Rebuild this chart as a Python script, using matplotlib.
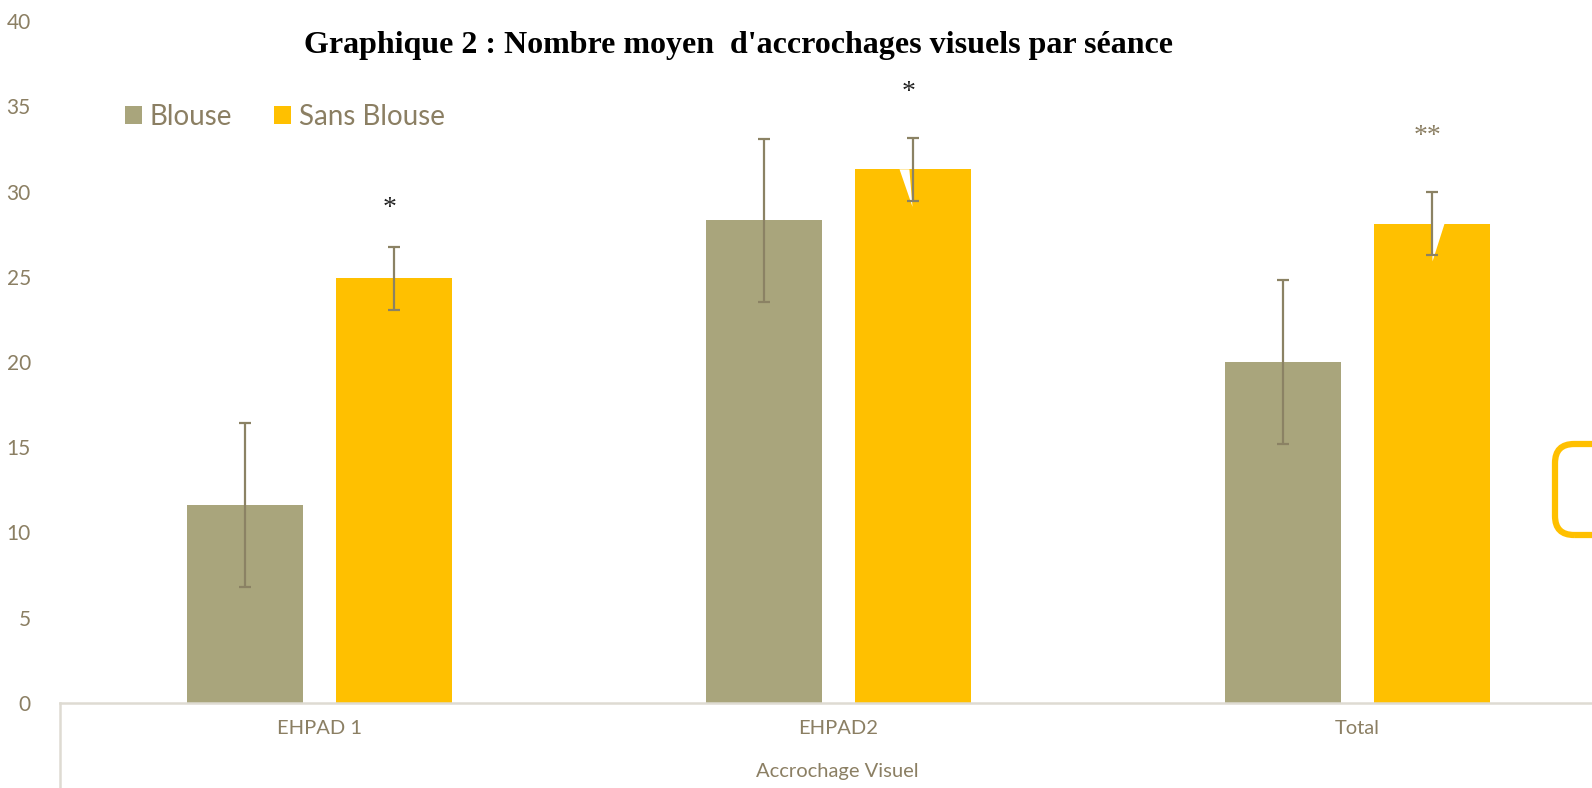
import matplotlib
matplotlib.use("Agg")
import matplotlib.pyplot as plt
import numpy as np
from matplotlib.patches import FancyBboxPatch, Polygon
from matplotlib.lines import Line2D

categories = ["EHPAD 1", "EHPAD2", "Total"]
blouse = [11.6, 28.3, 20.0]
blouse_err = [4.8, 4.8, 4.8]
sans_blouse = [24.9, 31.3, 28.1]
sans_err = [1.85, 1.85, 1.85]
stars = ["*", "*", "**"]
series_names = ["Blouse", "Sans Blouse"]
yticks = [0, 5, 10, 15, 20, 25, 30, 35, 40]

C_BLOUSE = "#A9A57C"
C_SANS = "#FFC000"
C_TEXT = "#8B7F63"
C_ERR = "#8B8264"
C_AXIS = "#DEDBD2"

W, H = 1592, 788
fig = plt.figure(figsize=(W / 100, H / 100), dpi=100)
ax = fig.add_axes([60 / W, 1 - 703 / H, 1 - 60 / W, (703 - 21) / H])

x = np.arange(len(categories))
bw = 0.2235
off = 0.1426
ax.bar(x - off, blouse, bw, color=C_BLOUSE, label=series_names[0], zorder=2)
ax.bar(x + off, sans_blouse, bw, color=C_SANS, label=series_names[1], zorder=2)

# notches (callout artifacts) in the yellow bars
notch_specs = {1: [(-0.025, 0.0), (-0.006, 0.0), (0.0, -2.2)],
               2: [(0.0, 0.0), (0.025, 0.0), (0.002, -2.2)]}
for i, pts in notch_specs.items():
    poly = [(x[i] + off + dx, sans_blouse[i] + dy) for dx, dy in pts]
    ax.add_patch(Polygon(poly, closed=True, facecolor="white", edgecolor="none", zorder=3))

ekw = dict(fmt="none", ecolor=C_ERR, elinewidth=1.6, capsize=4.5, capthick=1.6, zorder=4)
ax.errorbar(x - off, blouse, yerr=blouse_err, **ekw)
ax.errorbar(x + off, sans_blouse, yerr=sans_err, **ekw)

# significance stars
star_y = [29.0, 35.8, 33.2]
star_col = ["#222222", "#222222", C_TEXT]
for i in range(len(categories)):
    ax.text(x[i] + off - 0.008, star_y[i], stars[i], ha="center", va="center",
            fontsize=20, family="Liberation Serif", color=star_col[i])

ax.set_xlim(-0.5, -0.5 + (W - 60) / 519)
ax.set_ylim(0, 40)
ax.set_yticks(yticks)
ax.set_yticklabels([str(t) for t in yticks])
ax.set_xticks(x)
ax.set_xticklabels(categories)
ax.tick_params(axis="both", length=0, colors=C_TEXT)
ax.tick_params(axis="y", pad=21, labelsize=15)
ax.tick_params(axis="x", pad=12, labelsize=14.5)
for lab in ax.get_xticklabels() + ax.get_yticklabels():
    lab.set_family("Lato")
for s in ["top", "right", "left"]:
    ax.spines[s].set_visible(False)
ax.spines["bottom"].set_color(C_AXIS)
ax.spines["bottom"].set_linewidth(1.8)

# multi-level axis divider and group label
fig.add_artist(Line2D([60 / W, 60 / W], [0, 1 - 703 / H], color=C_AXIS, lw=1.8))
fig.text(837 / W, 1 - 772 / H, "Accrochage Visuel", ha="center", va="center",
         fontsize=14.5, color=C_TEXT, family="Lato")

# title
fig.text(739 / W, 1 - 46 / H, "Graphique 2 : Nombre moyen  d'accrochages visuels par séance",
         ha="center", va="center", fontsize=23, fontweight="bold",
         family="Liberation Serif", color="black")

leg = ax.legend(loc="center left", bbox_to_anchor=(100 / W, 1 - 117 / H),
                bbox_transform=fig.transFigure, ncol=2, frameon=False,
                handlelength=0.6, handleheight=0.6, handletextpad=0.3,
                columnspacing=1.5, prop={"family": "Lato", "size": 20})
for t in leg.get_texts():
    t.set_color(C_TEXT)

# partial rounded shape at right edge
fig.add_artist(FancyBboxPatch((1555 / W, 1 - 535 / H), 100 / W, 91 / H,
                              boxstyle="round,pad=0,rounding_size=0.012",
                              transform=fig.transFigure, fill=False,
                              edgecolor=C_SANS, linewidth=4.5, clip_on=False,
                              mutation_aspect=W / H))

fig.savefig("out.png", dpi=100, facecolor="white")
